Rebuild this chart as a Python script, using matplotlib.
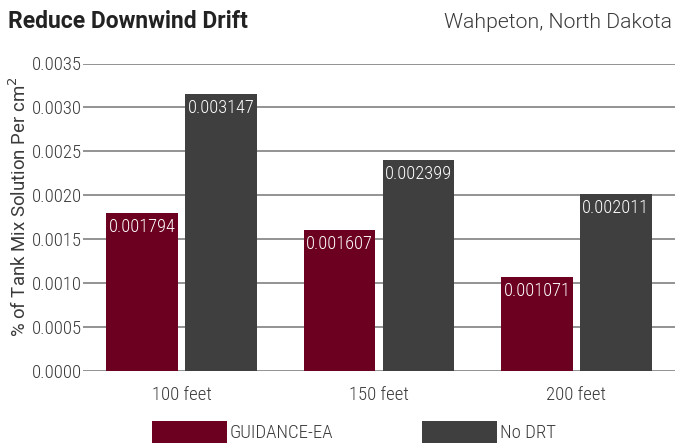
import matplotlib.pyplot as plt
import numpy as np

# data
distances = ['100 feet', '150 feet', '200 feet']
guidance_ea = [0.001794, 0.001607, 0.001071]
no_drt = [0.003147, 0.002399, 0.002011]
yticks = [0.0, 0.0005, 0.0010, 0.0015, 0.0020, 0.0025, 0.0030, 0.0035]

RED = '#6b0020'
GRAY = '#3f3f3f'
TXT = '#3a3a3a'

plt.rcParams['font.family'] = ['Roboto Condensed', 'DejaVu Sans']
plt.rcParams['font.weight'] = 300
WIDE = ['Roboto', 'DejaVu Sans']

fig = plt.figure(figsize=(6.75, 4.46), dpi=100)
ax = fig.add_axes([83 / 675, 1 - 370.7 / 446, 1 - 83 / 675, (370.7 - 63.5) / 446])

x = np.arange(len(distances))
w = 0.362
b1 = ax.bar(x - 0.2, guidance_ea, w, color=RED, label='GUIDANCE-EA', zorder=3)
b2 = ax.bar(x + 0.2, no_drt, w, color=GRAY, label='No DRT', zorder=3)

# value labels just inside the top of each bar
for bars in (b1, b2):
    for r in bars:
        v = r.get_height()
        ax.annotate(f'{v:.6f}', (r.get_x() + r.get_width() / 2, v),
                    xytext=(0, -3.5), textcoords='offset points',
                    ha='center', va='top', color='white', fontsize=13.2, zorder=4)

ax.set_xlim(-0.5, 2.5)
ax.set_ylim(0, 0.0035)
ax.set_yticks(yticks)
ax.set_yticklabels([f'{t:.4f}' for t in yticks])
ax.set_xticks(x)
ax.set_xticklabels(distances)
ax.yaxis.grid(True, color='#8a8a8a', linewidth=1.3, zorder=0)
ax.tick_params(axis='y', length=0, pad=1, labelsize=13.5, labelcolor=TXT)
ax.tick_params(axis='x', length=0, pad=11, labelsize=13.5, labelcolor=TXT)
for s in ax.spines.values():
    s.set_visible(False)
ax.set_ylabel('% of Tank Mix Solution Per cm$^2$', fontsize=13.4, color=TXT, family=WIDE)
ax.yaxis.set_label_coords(-0.089, 0.535)

fig.text(8 / 675, 1 - 22 / 446, 'Reduce Downwind Drift', fontsize=16.5, fontweight='bold',
         color='#222222', ha='left', va='center', family=WIDE)
fig.text(672 / 675, 1 - 22 / 446, 'Wahpeton, North Dakota', fontsize=15.3,
         color=TXT, ha='right', va='center', family=WIDE)

fig.legend(handles=[b1, b2], loc='center left', bbox_to_anchor=(152 / 675, 1 - 431.7 / 446),
           ncol=2, frameon=False, fontsize=13.5, handlelength=4.0, handleheight=1.44,
           handletextpad=0.16, columnspacing=4.7, borderpad=0, borderaxespad=0,
           labelcolor=TXT)

fig.savefig('out.png', dpi=100)
